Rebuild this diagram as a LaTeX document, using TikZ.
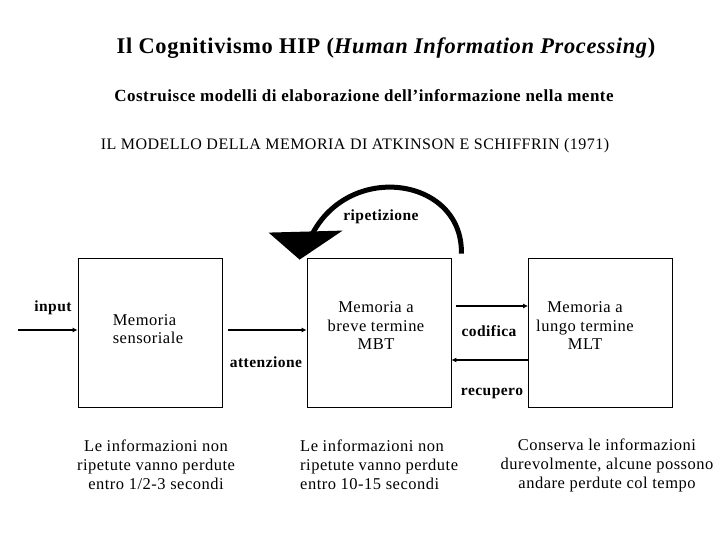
\documentclass[tikz,border=0pt]{standalone}
\usepackage{fontspec}
\setmainfont{Liberation Serif}[LetterSpace=3]
\usetikzlibrary{arrows.meta, calc}

\begin{document}
\begin{tikzpicture}[
    x=1pt, y=-1pt,
    membox/.style={draw, line width=0.8pt, minimum width=144pt, minimum height=149pt, inner sep=0pt},
    boxtxt/.style={align=center, inner sep=0pt, font=\fontsize{16.5}{18.5}\selectfont},
    lbl/.style={inner sep=0pt, font=\fontsize{15.5}{18}\selectfont\bfseries},
    note/.style={align=center, inner sep=0pt, font=\fontsize{16.5}{19}\selectfont},
    arrow/.style={-{Latex[length=5pt,width=5pt]}, line width=1.6pt}
]
    \useasboundingbox (0,0) rectangle (720,540);

    % Titles
    \node[font=\fontsize{22.4}{24}\selectfont\bfseries] (title) at (386,48) {Il Cognitivismo HIP (\textit{Human Information Processing})};
    \node[font=\fontsize{17}{19}\selectfont\bfseries] (subtitle) at (364,96) {Costruisce modelli di elaborazione dell’informazione nella mente};
    \node[font=\fontsize{16}{18}\selectfont] (model) at (355,146) {IL MODELLO DELLA MEMORIA DI ATKINSON E SCHIFFRIN (1971)};

    % Memory stores
    \node[membox] (ms) at (150,332.5) {};
    \node[membox] (mbt) at (379,332.5) {};
    \node[membox] (mlt) at (600.5,332.5) {};

    \node[boxtxt, align=left] (ms_txt) at (148,329) {Memoria\\sensoriale};
    \node[boxtxt] (mbt_txt) at (376,326) {Memoria a\\breve termine\\MBT};
    \node[boxtxt] (mlt_txt) at (585,326) {Memoria a\\lungo termine\\MLT};

    % Flow between stores
    \coordinate (in_start) at (18,330);
    \draw[arrow] (in_start) -- ([yshift=2.5pt]ms.west);
    \draw[arrow] ([xshift=6pt,yshift=2.5pt]ms.east) -- ([yshift=2.5pt]mbt.west);
    \draw[arrow] ([xshift=5pt,yshift=26.5pt]mbt.east) -- ([yshift=26.5pt]mlt.west);
    \draw[arrow] ([yshift=-27.5pt]mlt.west) -- ([yshift=-27.5pt]mbt.east);

    \node[lbl] (input_lbl) at (53,308) {input};
    \node[lbl] (att_lbl) at (266,362) {attenzione};
    \node[lbl] (cod_lbl) at (489,331) {codifica};
    \node[lbl] (rec_lbl) at (492,393) {recupero};

    % Rehearsal loop, with its big head drawn as a filled triangle
    \coordinate (loop_start) at ($(mbt.north east)+(10,-4)$);
    \coordinate (loop_end) at ($(mbt.north west)+(3,-18)$);
    \coordinate (head_l) at ($(mbt.north west)+(-38,-25)$);
    \coordinate (head_r) at ($(mbt.north west)+(36,-27)$);
    \coordinate (head_tip) at ($(mbt.north west)+(-7,2)$);
    \draw[line width=5pt] (loop_start) .. controls (463,176) and (345,160) .. (loop_end);
    \fill (head_l) -- (head_r) -- (head_tip) -- cycle;
    \node[lbl] (rip_lbl) at (381,217) {ripetizione};

    % Notes
    \node[note] (ms_note) at (156,465) {Le informazioni non\\ripetute vanno perdute\\entro 1/2-3 secondi};
    \node[note, align=left, anchor=west] (mbt_note) at (300,465) {Le informazioni non\\ripetute vanno perdute\\entro 10-15 secondi};
    \node[note] (mlt_note) at (607,465) {Conserva le informazioni\\durevolmente, alcune possono\\andare perdute col tempo};

\end{tikzpicture}
\end{document}
